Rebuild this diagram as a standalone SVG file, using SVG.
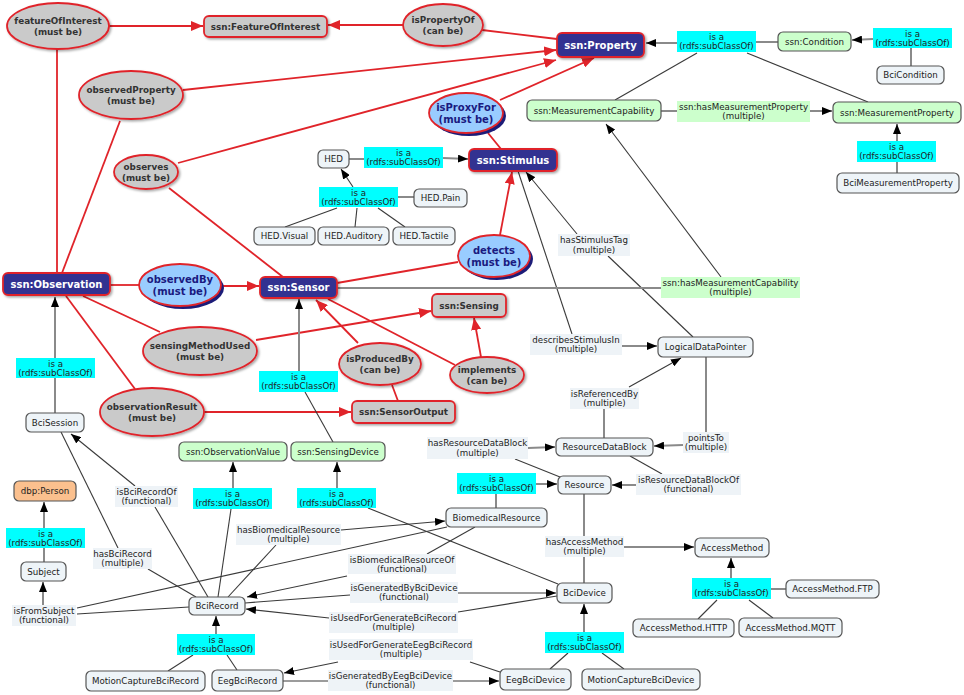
<svg xmlns="http://www.w3.org/2000/svg" width="964" height="695" viewBox="0 0 964 695">
<style>
text{font-family:'DejaVu Sans',Verdana,sans-serif;text-anchor:middle}
.t{font-size:8.7px;fill:#222}
.tb{font-size:8.8px;font-weight:bold;fill:#333}
.tw{font-size:10px;font-weight:bold;fill:#fff}
.tn{font-size:10px;font-weight:bold;fill:#1a1a80}
.r{stroke:#e0242a;stroke-width:1.8;fill:none}
.k{stroke:#3a3a3a;stroke-width:1.1;fill:none}
.g{stroke:#8a8a8a;stroke-width:2;fill:none}
.ra{marker-end:url(#ar)}
.ka{marker-end:url(#ak)}
.n{fill:#eef4f8;stroke:#555;stroke-width:1.2}
.gr{fill:#ccffcc;stroke:#555;stroke-width:1.2}
.or{fill:#fbc08e;stroke:#555;stroke-width:1.2}
.db{fill:#333391;stroke:#e0242a;stroke-width:1.8}
.gy{fill:#cacaca;stroke:#e0242a;stroke-width:1.8}
.be{fill:#99ccff;stroke:#e0242a;stroke-width:1.8}
.bs{fill:#1c1c78}
.cy{fill:#00ffff}
.lg{fill:#ccffcc}
.lb{fill:#eef3f7}
</style>
<defs>
<marker id="ar" markerUnits="userSpaceOnUse" markerWidth="12" markerHeight="10" refX="12" refY="5" orient="auto"><path d="M0,0 L12,5 L0,10 z" fill="#e0242a"/></marker>
<marker id="ak" markerUnits="userSpaceOnUse" markerWidth="10" markerHeight="8" refX="10" refY="4" orient="auto"><path d="M0,0 L10,4 L0,8 z" fill="#000"/></marker>
<filter id="ds" x="-20%" y="-20%" width="140%" height="150%"><feDropShadow dx="1.5" dy="1.5" stdDeviation="1" flood-color="#000" flood-opacity="0.35"/></filter>
</defs>
<rect width="964" height="695" fill="#fff"/>
<g id="connectors">
<path class="r ra" d="M109,26 L203,26"/>
<path class="r" d="M57,49 L57,273"/>
<path class="r ra" d="M403,25 L328,25"/>
<path class="r" d="M482,30 L557,39"/>
<path class="r ra" d="M183,90 L556,50"/>
<path class="r" d="M120,121 L62,273"/>
<path class="r ra" d="M178,163 L556,60"/>
<path class="r" d="M169,188 L283,277"/>
<path class="r ra" d="M500,100 L594,58"/>
<path class="r" d="M488,133 L501,149"/>
<path class="r ra" d="M500,235 L512,172"/>
<path class="r" d="M458,262 L337,283"/>
<path class="r" d="M110,285 L140,285"/>
<path class="r ra" d="M221,286 L259,286"/>
<path class="r" d="M83,296 L160,332"/>
<path class="r ra" d="M256,340 L431,311"/>
<path class="r" d="M66,296 L135,389"/>
<path class="r ra" d="M204,412 L351,412"/>
<path class="r ra" d="M358,343 L316,300"/>
<path class="r" d="M392,385 L398,401"/>
<path class="r ra" d="M481,357 L474,318"/>
<path class="r" d="M455,365 L328,299"/>
<path class="g ka" d="M677,43 L646,43"/>
<path class="g" d="M756,42 L778,42"/>
<path class="g ka" d="M873,39 L852,40"/>
<path class="g" d="M911,66 L911,48"/>
<path class="k" d="M697,53 L615,100"/>
<path class="k" d="M747,53 L868,102"/>
<path class="g" d="M661,111 L677,111"/>
<path class="g ka" d="M810,111 L832,111"/>
<path class="g" d="M897,173 L897,162"/>
<path class="g ka" d="M897,141 L897,124"/>
<path class="g" d="M349,159 L364,159"/>
<path class="g ka" d="M443,158 L468,159"/>
<path class="k ka" d="M353,187 L341,169"/>
<path class="g" d="M398,197 L414,197"/>
<path class="k" d="M337,208 L285,227"/>
<path class="k" d="M357,208 L355,227"/>
<path class="k" d="M378,208 L405,227"/>
<path class="k ka" d="M577,234 L526,172"/>
<path class="k" d="M608,256 L693,337"/>
<path class="k" d="M518,171 L572,334"/>
<path class="g ka" d="M622,346 L657,346"/>
<path class="k ka" d="M629,387 L681,358"/>
<path class="g" d="M604,438 L604,409"/>
<path class="g" d="M706,357 L706,432"/>
<path class="g ka" d="M683,445 L654,446"/>
<path class="g ka" d="M528,448 L555,447"/>
<path class="k" d="M515,459 L560,477"/>
<path class="k" d="M630,456 L662,474"/>
<path class="g ka" d="M636,485 L612,485"/>
<path class="g" d="M584,494 L584,536"/>
<path class="g ka" d="M624,547 L694,547"/>
<path class="g" d="M584,557 L584,583"/>
<path class="g ka" d="M731,578 L731,558"/>
<path class="g" d="M771,589 L786,589"/>
<path class="k" d="M717,600 L698,619"/>
<path class="k" d="M749,600 L773,618"/>
<path class="g ka" d="M584,632 L584,604"/>
<path class="k" d="M568,653 L550,669"/>
<path class="k" d="M602,653 L624,669"/>
<path class="g" d="M496,494 L496,508"/>
<path class="g ka" d="M536,484 L557,484"/>
<path class="g ka" d="M299,371 L299,299"/>
<path class="k" d="M305,392 L333,442"/>
<path class="g ka" d="M337,488 L337,462"/>
<path class="k" d="M368,508 L558,584"/>
<path class="g ka" d="M233,488 L233,462"/>
<path class="k" d="M231,509 L218,597"/>
<path class="g" d="M55,413 L55,378"/>
<path class="g ka" d="M55,358 L55,297"/>
<path class="k ka" d="M135,486 L71,434"/>
<path class="k" d="M155,507 L208,597"/>
<path class="k" d="M61,432 L118,548"/>
<path class="k" d="M148,569 L196,597"/>
<path class="k" d="M228,597 L276,545"/>
<path class="k ka" d="M341,530 L445,521"/>
<path class="k" d="M475,527 L427,554"/>
<path class="k ka" d="M347,576 L247,597"/>
<path class="k" d="M77,608 L447,527"/>
<path class="k" d="M77,614 L189,607"/>
<path class="g ka" d="M43,605 L43,582"/>
<path class="k" d="M245,603 L350,595"/>
<path class="k ka" d="M458,593 L556,593"/>
<path class="k ka" d="M329,618 L246,609"/>
<path class="k" d="M458,612 L557,596"/>
<path class="k" d="M500,672 L470,662"/>
<path class="k ka" d="M338,662 L284,673"/>
<path class="k" d="M283,681 L328,681"/>
<path class="k ka" d="M453,681 L499,681"/>
<path class="g ka" d="M216,634 L216,616"/>
<path class="k" d="M193,655 L168,671"/>
<path class="k" d="M227,655 L237,670"/>
<path class="g" d="M44,562 L44,548"/>
<path class="g ka" d="M44,528 L44,502"/>
<path class="g" d="M337,288 L661,288"/>
<path class="k ka" d="M721,277 L606,124"/>
</g>
<g id="labels">
<g><rect class="cy" x="677" y="31" width="79" height="21"/><text class="t" x="716.5" y="39.5">is a</text><text class="t" x="716.5" y="49">(rdfs:subClassOf)</text></g>
<g><rect class="cy" x="873" y="28" width="79" height="20"/><text class="t" x="912.5" y="36.5">is a</text><text class="t" x="912.5" y="46">(rdfs:subClassOf)</text></g>
<g><rect class="cy" x="857" y="141" width="79" height="21"/><text class="t" x="896.5" y="149.5">is a</text><text class="t" x="896.5" y="159">(rdfs:subClassOf)</text></g>
<g><rect class="cy" x="364" y="147" width="79" height="21"/><text class="t" x="403.5" y="155.5">is a</text><text class="t" x="403.5" y="165">(rdfs:subClassOf)</text></g>
<g><rect class="cy" x="319" y="187" width="79" height="20"/><text class="t" x="358.5" y="195.5">is a</text><text class="t" x="358.5" y="205">(rdfs:subClassOf)</text></g>
<g><rect class="cy" x="16" y="358" width="79" height="20"/><text class="t" x="55.5" y="366.5">is a</text><text class="t" x="55.5" y="376">(rdfs:subClassOf)</text></g>
<g><rect class="cy" x="259" y="371" width="79" height="21"/><text class="t" x="298.5" y="379.5">is a</text><text class="t" x="298.5" y="389">(rdfs:subClassOf)</text></g>
<g><rect class="cy" x="6" y="528" width="79" height="20"/><text class="t" x="45.5" y="536.5">is a</text><text class="t" x="45.5" y="546">(rdfs:subClassOf)</text></g>
<g><rect class="cy" x="193" y="488" width="79" height="21"/><text class="t" x="232.5" y="496.5">is a</text><text class="t" x="232.5" y="506">(rdfs:subClassOf)</text></g>
<g><rect class="cy" x="297" y="488" width="79" height="20"/><text class="t" x="336.5" y="496.5">is a</text><text class="t" x="336.5" y="506">(rdfs:subClassOf)</text></g>
<g><rect class="cy" x="457" y="473" width="79" height="21"/><text class="t" x="496.5" y="481.5">is a</text><text class="t" x="496.5" y="491">(rdfs:subClassOf)</text></g>
<g><rect class="cy" x="177" y="634" width="78" height="21"/><text class="t" x="216" y="642.5">is a</text><text class="t" x="216" y="652">(rdfs:subClassOf)</text></g>
<g><rect class="cy" x="545" y="632" width="79" height="21"/><text class="t" x="584.5" y="640.5">is a</text><text class="t" x="584.5" y="650">(rdfs:subClassOf)</text></g>
<g><rect class="cy" x="692" y="578" width="79" height="21"/><text class="t" x="731.5" y="586.5">is a</text><text class="t" x="731.5" y="596">(rdfs:subClassOf)</text></g>
<g><rect class="lg" x="677" y="101" width="133" height="21"/><text class="t" x="743.5" y="109.5">ssn:hasMeasurementProperty</text><text class="t" x="743.5" y="119">(multiple)</text></g>
<g><rect class="lg" x="661" y="277" width="139" height="21"/><text class="t" x="730.5" y="285.5">ssn:hasMeasurementCapability</text><text class="t" x="730.5" y="295">(multiple)</text></g>
<g><rect class="lb" x="558" y="234" width="72" height="22"/><text class="t" x="594" y="243">hasStimulusTag</text><text class="t" x="594" y="252.5">(multiple)</text></g>
<g><rect class="lb" x="530" y="334" width="92" height="21"/><text class="t" x="576" y="342.5">describesStimulusIn</text><text class="t" x="576" y="352">(multiple)</text></g>
<g><rect class="lb" x="570" y="388" width="69" height="21"/><text class="t" x="604.5" y="396.5">isReferencedBy</text><text class="t" x="604.5" y="406">(multiple)</text></g>
<g><rect class="lb" x="427" y="437" width="101" height="22"/><text class="t" x="477.5" y="446">hasResourceDataBlock</text><text class="t" x="477.5" y="455.5">(multiple)</text></g>
<g><rect class="lb" x="683" y="432" width="46" height="21"/><text class="t" x="706" y="440.5">pointsTo</text><text class="t" x="706" y="450">(multiple)</text></g>
<g><rect class="lb" x="636" y="474" width="105" height="21"/><text class="t" x="688.5" y="482.5">isResourceDataBlockOf</text><text class="t" x="688.5" y="492">(functional)</text></g>
<g><rect class="lb" x="545" y="536" width="79" height="21"/><text class="t" x="584.5" y="544.5">hasAccessMethod</text><text class="t" x="584.5" y="554">(multiple)</text></g>
<g><rect class="lb" x="115" y="486" width="63" height="21"/><text class="t" x="146.5" y="494.5">isBciRecordOf</text><text class="t" x="146.5" y="504">(functional)</text></g>
<g><rect class="lb" x="93" y="548" width="59" height="21"/><text class="t" x="122.5" y="556.5">hasBciRecord</text><text class="t" x="122.5" y="566">(multiple)</text></g>
<g><rect class="lb" x="236" y="524" width="105" height="21"/><text class="t" x="288.5" y="532.5">hasBiomedicalResource</text><text class="t" x="288.5" y="542">(multiple)</text></g>
<g><rect class="lb" x="348" y="554" width="108" height="20"/><text class="t" x="402" y="562.5">isBiomedicalResourceOf</text><text class="t" x="402" y="572">(functional)</text></g>
<g><rect class="lb" x="350" y="582" width="108" height="21"/><text class="t" x="404" y="590.5">isGeneratedByBciDevice</text><text class="t" x="404" y="600">(functional)</text></g>
<g><rect class="lb" x="329" y="612" width="129" height="21"/><text class="t" x="393.5" y="620.5">isUsedForGenerateBciRecord</text><text class="t" x="393.5" y="630">(multiple)</text></g>
<g><rect class="lb" x="329" y="639" width="144" height="21"/><text class="t" x="401" y="647.5">isUsedForGenerateEegBciRecord</text><text class="t" x="401" y="657">(multiple)</text></g>
<g><rect class="lb" x="328" y="670" width="125" height="21"/><text class="t" x="390.5" y="678.5">isGeneratedByEegBciDevice</text><text class="t" x="390.5" y="688">(functional)</text></g>
<g><rect class="lb" x="12" y="605" width="64" height="21"/><text class="t" x="44" y="613.5">isFromSubject</text><text class="t" x="44" y="623">(functional)</text></g>
</g>
<g id="n-featureOfInterest"><ellipse class="gy" cx="58" cy="26" rx="51" ry="23" filter="url(#ds)"/><text class="tb" x="58" y="24">featureOfInterest</text><text class="tb" x="58" y="35">(must be)</text></g>
<g id="n-isPropertyOf"><ellipse class="gy" cx="443" cy="25" rx="40" ry="21" filter="url(#ds)"/><text class="tb" x="443" y="23">isPropertyOf</text><text class="tb" x="443" y="34">(can be)</text></g>
<g id="n-observedProperty"><ellipse class="gy" cx="131" cy="95" rx="52" ry="24" filter="url(#ds)"/><text class="tb" x="131" y="93">observedProperty</text><text class="tb" x="131" y="104">(must be)</text></g>
<g id="n-observes"><ellipse class="gy" cx="146" cy="172" rx="32" ry="17" filter="url(#ds)"/><text class="tb" x="146" y="170">observes</text><text class="tb" x="146" y="181">(must be)</text></g>
<g id="n-sensingMethodUsed"><ellipse class="gy" cx="200" cy="351" rx="57" ry="24" filter="url(#ds)"/><text class="tb" x="200" y="349">sensingMethodUsed</text><text class="tb" x="200" y="360">(must be)</text></g>
<g id="n-observationResult"><ellipse class="gy" cx="152" cy="412" rx="52" ry="24" filter="url(#ds)"/><text class="tb" x="152" y="410">observationResult</text><text class="tb" x="152" y="421">(must be)</text></g>
<g id="n-isProducedBy"><ellipse class="gy" cx="380" cy="364" rx="41" ry="21" filter="url(#ds)"/><text class="tb" x="380" y="362">isProducedBy</text><text class="tb" x="380" y="373">(can be)</text></g>
<g id="n-implements"><ellipse class="gy" cx="487" cy="375" rx="37" ry="18" filter="url(#ds)"/><text class="tb" x="487" y="373">implements</text><text class="tb" x="487" y="384">(can be)</text></g>
<g id="n-isProxyFor"><ellipse class="bs" cx="469" cy="116" rx="37" ry="20"/><ellipse class="be" cx="466" cy="113" rx="37" ry="20"/><text class="tn" x="466" y="111">isProxyFor</text><text class="tn" x="466" y="123">(must be)</text></g>
<g id="n-observedBy"><ellipse class="bs" cx="183" cy="288" rx="41" ry="21"/><ellipse class="be" cx="180" cy="285" rx="41" ry="21"/><text class="tn" x="180" y="283">observedBy</text><text class="tn" x="180" y="295">(must be)</text></g>
<g id="n-detects"><ellipse class="bs" cx="497" cy="259" rx="36" ry="21"/><ellipse class="be" cx="494" cy="256" rx="36" ry="21"/><text class="tn" x="494" y="254">detects</text><text class="tn" x="494" y="266">(must be)</text></g>
<g id="n-ssnProperty"><rect class="db" x="557" y="33" width="87" height="24" rx="5" filter="url(#ds)"/><text class="tw" x="600.5" y="48.5">ssn:Property</text></g>
<g id="n-ssnStimulus"><rect class="db" x="469" y="149" width="88" height="22" rx="5" filter="url(#ds)"/><text class="tw" x="513" y="163.5">ssn:Stimulus</text></g>
<g id="n-ssnObservation"><rect class="db" x="3" y="273" width="107" height="22" rx="5" filter="url(#ds)"/><text class="tw" x="56.5" y="287.5">ssn:Observation</text></g>
<g id="n-ssnSensor"><rect class="db" x="260" y="277" width="77" height="21" rx="5" filter="url(#ds)"/><text class="tw" x="298.5" y="291">ssn:Sensor</text></g>
<g id="n-ssnFeatureOfInterest"><rect class="gy" x="204" y="16" width="123" height="21" rx="5" filter="url(#ds)"/><text class="tb" x="265.5" y="29.5">ssn:FeatureOfInterest</text></g>
<g id="n-ssnSensing"><rect class="gy" x="432" y="294" width="74" height="23" rx="5" filter="url(#ds)"/><text class="tb" x="469" y="308.5">ssn:Sensing</text></g>
<g id="n-ssnSensorOutput"><rect class="gy" x="352" y="401" width="103" height="22" rx="5" filter="url(#ds)"/><text class="tb" x="403.5" y="415">ssn:SensorOutput</text></g>
<g id="n-ssnCondition"><rect class="gr" x="778" y="32" width="73" height="19" rx="5"/><text class="t" x="814.5" y="44.5">ssn:Condition</text></g>
<g id="n-ssnMeasurementCapability"><rect class="gr" x="527" y="100" width="134" height="21" rx="5"/><text class="t" x="594" y="113.5">ssn:MeasurementCapability</text></g>
<g id="n-ssnMeasurementProperty"><rect class="gr" x="833" y="102" width="128" height="21" rx="5"/><text class="t" x="897" y="115.5">ssn:MeasurementProperty</text></g>
<g id="n-ssnObservationValue"><rect class="gr" x="179" y="442" width="108" height="19" rx="5"/><text class="t" x="233" y="454.5">ssn:ObservationValue</text></g>
<g id="n-ssnSensingDevice"><rect class="gr" x="291" y="442" width="94" height="19" rx="5"/><text class="t" x="338" y="454.5">ssn:SensingDevice</text></g>
<g id="n-BciCondition"><rect class="n" x="877" y="66" width="67" height="18" rx="5"/><text class="t" x="910.5" y="78">BciCondition</text></g>
<g id="n-BciMeasurementProperty"><rect class="n" x="837" y="173" width="122" height="20" rx="5"/><text class="t" x="898" y="186">BciMeasurementProperty</text></g>
<g id="n-HED"><rect class="n" x="318" y="150" width="31" height="18" rx="5"/><text class="t" x="333.5" y="162">HED</text></g>
<g id="n-HEDPain"><rect class="n" x="414" y="189" width="53" height="18" rx="5"/><text class="t" x="440.5" y="201">HED.Pain</text></g>
<g id="n-HEDVisual"><rect class="n" x="254" y="227" width="61" height="18" rx="5"/><text class="t" x="284.5" y="239">HED.Visual</text></g>
<g id="n-HEDAuditory"><rect class="n" x="318" y="227" width="71" height="18" rx="5"/><text class="t" x="353.5" y="239">HED.Auditory</text></g>
<g id="n-HEDTactile"><rect class="n" x="393" y="227" width="62" height="18" rx="5"/><text class="t" x="424" y="239">HED.Tactile</text></g>
<g id="n-LogicalDataPointer"><rect class="n" x="658" y="337" width="95" height="20" rx="5"/><text class="t" x="705.5" y="350">LogicalDataPointer</text></g>
<g id="n-ResourceDataBlock"><rect class="n" x="556" y="438" width="97" height="18" rx="5"/><text class="t" x="604.5" y="450">ResourceDataBlock</text></g>
<g id="n-Resource"><rect class="n" x="558" y="476" width="53" height="18" rx="5"/><text class="t" x="584.5" y="488">Resource</text></g>
<g id="n-BiomedicalResource"><rect class="n" x="446" y="508" width="101" height="19" rx="5"/><text class="t" x="496.5" y="521">BiomedicalResource</text></g>
<g id="n-BciDevice"><rect class="n" x="557" y="583" width="55" height="20" rx="5"/><text class="t" x="584.5" y="596">BciDevice</text></g>
<g id="n-AccessMethod"><rect class="n" x="695" y="538" width="74" height="19" rx="5"/><text class="t" x="732" y="551">AccessMethod</text></g>
<g id="n-AccessMethodFTP"><rect class="n" x="786" y="580" width="93" height="18" rx="5"/><text class="t" x="832.5" y="592">AccessMethod.FTP</text></g>
<g id="n-AccessMethodHTTP"><rect class="n" x="633" y="619" width="101" height="18" rx="5"/><text class="t" x="683.5" y="631">AccessMethod.HTTP</text></g>
<g id="n-AccessMethodMQTT"><rect class="n" x="739" y="618" width="103" height="19" rx="5"/><text class="t" x="790.5" y="631">AccessMethod.MQTT</text></g>
<g id="n-MotionCaptureBciDevice"><rect class="n" x="582" y="669" width="118" height="21" rx="5"/><text class="t" x="641" y="683">MotionCaptureBciDevice</text></g>
<g id="n-EegBciDevice"><rect class="n" x="500" y="669" width="71" height="21" rx="5"/><text class="t" x="535.5" y="683">EegBciDevice</text></g>
<g id="n-EegBciRecord"><rect class="n" x="212" y="670" width="71" height="21" rx="5"/><text class="t" x="247.5" y="684">EegBciRecord</text></g>
<g id="n-MotionCaptureBciRecord"><rect class="n" x="86" y="671" width="119" height="20" rx="5"/><text class="t" x="145.5" y="684">MotionCaptureBciRecord</text></g>
<g id="n-BciRecord"><rect class="n" x="189" y="597" width="56" height="18" rx="5"/><text class="t" x="217" y="609">BciRecord</text></g>
<g id="n-Subject"><rect class="n" x="21" y="562" width="45" height="19" rx="5"/><text class="t" x="43.5" y="575">Subject</text></g>
<g id="n-dbpPerson"><rect class="or" x="14" y="481" width="62" height="20" rx="5"/><text class="t" x="45" y="494">dbp:Person</text></g>
<g id="n-BciSession"><rect class="n" x="26" y="413" width="58" height="19" rx="5"/><text class="t" x="55" y="426">BciSession</text></g>
</svg>
